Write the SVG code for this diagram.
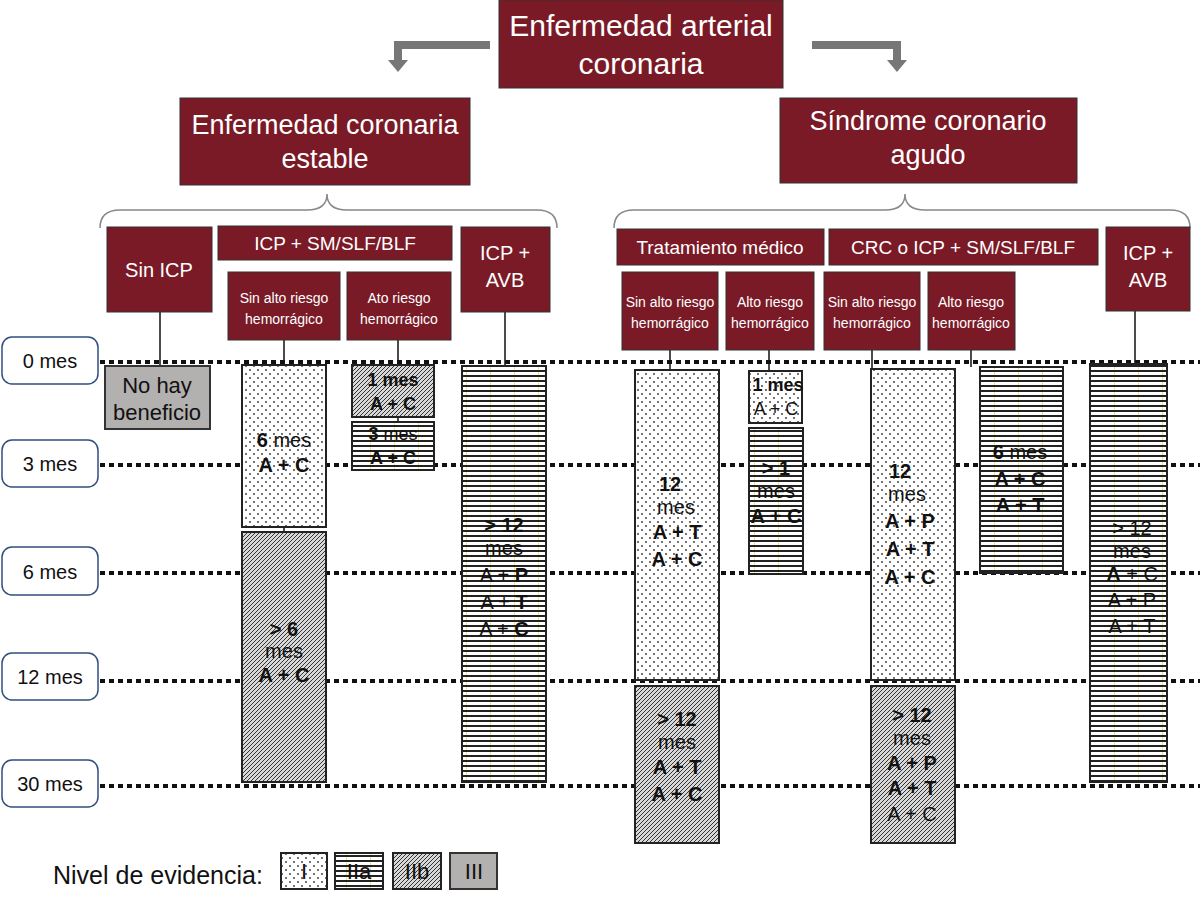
<svg xmlns="http://www.w3.org/2000/svg" width="1200" height="919" viewBox="0 0 1200 919">
<defs>
<pattern id="dots" width="8" height="8" patternUnits="userSpaceOnUse"><rect width="8" height="8" fill="#fff"/><circle cx="2" cy="2" r="0.9" fill="#333"/><circle cx="6" cy="6" r="0.9" fill="#333"/></pattern>
<pattern id="hl" width="24" height="5" patternUnits="userSpaceOnUse"><rect width="24" height="5" fill="#fff"/><rect x="0" y="0" width="24" height="2" fill="#222"/><rect x="10" y="2" width="1" height="3" fill="#f0e68c"/></pattern>
<pattern id="hatch" width="4" height="4" patternUnits="userSpaceOnUse"><rect width="4" height="4" fill="#d8d8d8"/><path d="M-1,1 l2,-2 M0,4 l4,-4 M3,5 l2,-2" stroke="#333" stroke-width="1"/></pattern>
</defs>
<style>
.m{fill:#7a1a26;stroke:#333;stroke-width:1}
.mt{font-family:"Liberation Sans",Arial,sans-serif;fill:#fff;text-anchor:middle}
.t{font-family:"Liberation Sans",Arial,sans-serif;fill:#111;text-anchor:middle}
.b{font-weight:bold}
.bar{stroke:#222;stroke-width:2}
.tl{fill:#fff;stroke:#2f4f7f;stroke-width:1.5}
.dl{stroke:#111;stroke-width:4;stroke-dasharray:5 4}
.ln{stroke:#111;stroke-width:1.5;fill:none}
</style>
<g id="connectors">
<path d="M490 45 H398 V62" fill="none" stroke="#777" stroke-width="8"/><path d="M388 60 L408 60 L398 72 Z" fill="#777"/>
<path d="M812 45 H897 V62" fill="none" stroke="#777" stroke-width="8"/><path d="M887 60 L907 60 L897 72 Z" fill="#777"/>
<path class="ln" stroke="#999" d="M100 228 Q100 210 120 210 H307 Q327 210 327 194 Q327 210 347 210 H537 Q557 210 557 228" style="stroke:#888"/>
<path class="ln" d="M614 228 Q614 210 634 210 H885 Q905 210 905 194 Q905 210 925 210 H1170 Q1190 210 1190 228" style="stroke:#888"/>
<path class="ln" d="M160 312 V366 M284 340 V365 M398 340 V365 M398 417 V422 M505 312 V366 M670 350 V370 M769 350 V371 M872 350 V369 M971 350 V367 M1135 311 V364 M284 527 V532"/>
<line class="dl" x1="100" y1="362" x2="1200" y2="362"/>
<line class="dl" x1="100" y1="465" x2="1200" y2="465"/>
<line class="dl" x1="100" y1="573" x2="1200" y2="573"/>
<line class="dl" x1="100" y1="681" x2="1200" y2="681"/>
<line class="dl" x1="100" y1="786" x2="1200" y2="786"/>
</g>
<g id="top"><rect class="m" x="499" y="0" width="284" height="88"/><text class="mt" x="641" y="36" font-size="30">Enfermedad arterial</text><text class="mt" x="641" y="74" font-size="30">coronaria</text></g>
<g id="estable"><rect class="m" x="180" y="98" width="290" height="87"/><text class="mt" x="325" y="134" font-size="27">Enfermedad coronaria</text><text class="mt" x="325" y="168" font-size="27">estable</text></g>
<g id="sca"><rect class="m" x="780" y="98" width="297" height="85"/><text class="mt" x="928" y="130" font-size="27">Síndrome coronario</text><text class="mt" x="928" y="164" font-size="27">agudo</text></g>
<g id="sinicp"><rect class="m" x="107" y="227" width="105" height="85"/><text class="mt" x="159" y="277" font-size="20">Sin ICP</text></g>
<g id="icpsm"><rect class="m" x="218" y="226" width="234" height="34"/><text class="mt" x="335" y="250" font-size="19">ICP + SM/SLF/BLF</text></g>
<g id="icpavb1"><rect class="m" x="461" y="227" width="89" height="85"/><text class="mt" x="505" y="260" font-size="20">ICP +</text><text class="mt" x="505" y="287" font-size="20">AVB</text></g>
<g id="s1"><rect class="m" x="228" y="272" width="112" height="68"/><text class="mt" x="284" y="303" font-size="14">Sin alto riesgo</text><text class="mt" x="284" y="324" font-size="14">hemorrágico</text></g>
<g id="s2"><rect class="m" x="347" y="272" width="104" height="68"/><text class="mt" x="399" y="303" font-size="14">Ato riesgo</text><text class="mt" x="399" y="324" font-size="14">hemorrágico</text></g>
<g id="trat"><rect class="m" x="617" y="229" width="207" height="36"/><text class="mt" x="720" y="254" font-size="19">Tratamiento médico</text></g>
<g id="crc"><rect class="m" x="829" y="229" width="269" height="36"/><text class="mt" x="963" y="254" font-size="19">CRC o ICP + SM/SLF/BLF</text></g>
<g id="icpavb2"><rect class="m" x="1106" y="227" width="84" height="84"/><text class="mt" x="1148" y="260" font-size="20">ICP +</text><text class="mt" x="1148" y="287" font-size="20">AVB</text></g>
<g id="s3"><rect class="m" x="622" y="272" width="96" height="78"/><text class="mt" x="670" y="307" font-size="14">Sin alto riesgo</text><text class="mt" x="670" y="328" font-size="14">hemorrágico</text></g>
<g id="s4"><rect class="m" x="726" y="272" width="88" height="78"/><text class="mt" x="770" y="307" font-size="14">Alto riesgo</text><text class="mt" x="770" y="328" font-size="14">hemorrágico</text></g>
<g id="s5"><rect class="m" x="824" y="272" width="96" height="78"/><text class="mt" x="872" y="307" font-size="14">Sin alto riesgo</text><text class="mt" x="872" y="328" font-size="14">hemorrágico</text></g>
<g id="s6"><rect class="m" x="928" y="272" width="87" height="78"/><text class="mt" x="971" y="307" font-size="14">Alto riesgo</text><text class="mt" x="971" y="328" font-size="14">hemorrágico</text></g>
<g id="timeline" font-size="20">
<rect class="tl" x="2" y="337" width="96" height="47" rx="10"/><text class="t" x="50" y="368">0 mes</text>
<rect class="tl" x="2" y="440" width="96" height="47" rx="10"/><text class="t" x="50" y="471">3 mes</text>
<rect class="tl" x="2" y="547" width="96" height="48" rx="10"/><text class="t" x="50" y="579">6 mes</text>
<rect class="tl" x="2" y="653" width="96" height="47" rx="10"/><text class="t" x="50" y="684">12 mes</text>
<rect class="tl" x="2" y="760" width="96" height="47" rx="10"/><text class="t" x="50" y="791">30 mes</text>
</g>
<g id="bars" font-size="20">
<rect x="105" y="366" width="105" height="63" fill="#b3b0b0" stroke="#333" stroke-width="2"/><text class="t" x="157" y="393" font-size="22">No hay</text><text class="t" x="157" y="420" font-size="22">beneficio</text>
<rect class="bar" x="242" y="365" width="84" height="162" fill="url(#dots)"/><text class="t" x="284" y="447"><tspan class="b">6</tspan> mes</text><text class="t b" x="284" y="472">A + C</text>
<rect class="bar" x="242" y="532" width="84" height="250" fill="url(#hatch)"/><text class="t b" x="284" y="636">&gt; 6</text><text class="t" x="284" y="658">mes</text><text class="t b" x="284" y="682">A + C</text>
<rect class="bar" x="352" y="365" width="82" height="52" fill="url(#hatch)"/><text class="t b" x="393" y="386" font-size="18">1 mes</text><text class="t b" x="393" y="410" font-size="18">A + C</text>
<rect class="bar" x="352" y="422" width="82" height="48" fill="url(#hl)"/><text class="t" x="393" y="440" font-size="18"><tspan class="b">3</tspan> mes</text><text class="t b" x="393" y="464" font-size="18">A + C</text>
<rect class="bar" x="462" y="366" width="84" height="416" fill="url(#hl)"/><text class="t b" x="504" y="532">&gt; 12</text><text class="t" x="504" y="555">mes</text><text class="t" x="504" y="582">A + <tspan class="b">P</tspan></text><text class="t" x="504" y="609">A + <tspan class="b">T</tspan></text><text class="t" x="504" y="636">A + <tspan class="b">C</tspan></text>
<rect class="bar" x="635" y="370" width="84" height="310" fill="url(#dots)"/><text class="t b" x="670" y="491">12</text><text class="t" x="676" y="514">mes</text><text class="t b" x="677" y="539">A + T</text><text class="t b" x="677" y="566">A + C</text>
<rect class="bar" x="635" y="686" width="84" height="157" fill="url(#hatch)"/><text class="t b" x="677" y="726">&gt; 12</text><text class="t" x="677" y="749">mes</text><text class="t b" x="677" y="774">A + T</text><text class="t b" x="677" y="801">A + C</text>
<rect class="bar" x="749" y="371" width="53" height="52" fill="url(#dots)"/><text class="t b" x="778" y="391" font-size="18">1 mes</text><text class="t" x="776" y="415" font-size="18">A + C</text>
<rect class="bar" x="749" y="428" width="54" height="146" fill="url(#hl)"/><text class="t b" x="776" y="475">&gt; 1</text><text class="t" x="776" y="498">mes</text><text class="t b" x="776" y="523">A + C</text>
<rect class="bar" x="871" y="369" width="84" height="311" fill="url(#dots)"/><text class="t b" x="900" y="478">12</text><text class="t" x="907" y="501">mes</text><text class="t b" x="910" y="528">A + P</text><text class="t b" x="910" y="556">A + T</text><text class="t b" x="910" y="584">A + C</text>
<rect class="bar" x="871" y="686" width="84" height="157" fill="url(#hatch)"/><text class="t b" x="912" y="722">&gt; 12</text><text class="t" x="912" y="745">mes</text><text class="t b" x="912" y="770">A + P</text><text class="t b" x="912" y="795">A + T</text><text class="t" x="912" y="821">A + C</text>
<rect class="bar" x="980" y="367" width="83" height="206" fill="url(#hl)"/><text class="t" x="1020" y="459"><tspan class="b">6</tspan> mes</text><text class="t b" x="1020" y="486">A + C</text><text class="t b" x="1020" y="512">A + T</text>
<rect class="bar" x="1090" y="364" width="77" height="418" fill="url(#hl)"/><text class="t" x="1132" y="535">&gt; 12</text><text class="t" x="1132" y="558">mes</text><text class="t" x="1132" y="581"><tspan class="b">A</tspan> + C</text><text class="t" x="1132" y="607">A + P</text><text class="t" x="1132" y="633">A + T</text>
</g>
<g id="legend" font-size="22">
<text x="53" y="884" font-family="Liberation Sans, Arial, sans-serif" font-size="25" fill="#111">Nivel de evidencia:</text>
<rect class="bar" x="281" y="853" width="46" height="36" fill="url(#dots)"/><text class="t" x="304" y="879">I</text>
<rect class="bar" x="335" y="853" width="48" height="36" fill="url(#hl)"/><text class="t" x="359" y="879">IIa</text>
<rect class="bar" x="393" y="853" width="48" height="36" fill="url(#hatch)"/><text class="t" x="417" y="879">IIb</text>
<rect x="450" y="853" width="47" height="36" fill="#b3b0b0" stroke="#333" stroke-width="2"/><text class="t" x="474" y="879">III</text>
</g>
</svg>
